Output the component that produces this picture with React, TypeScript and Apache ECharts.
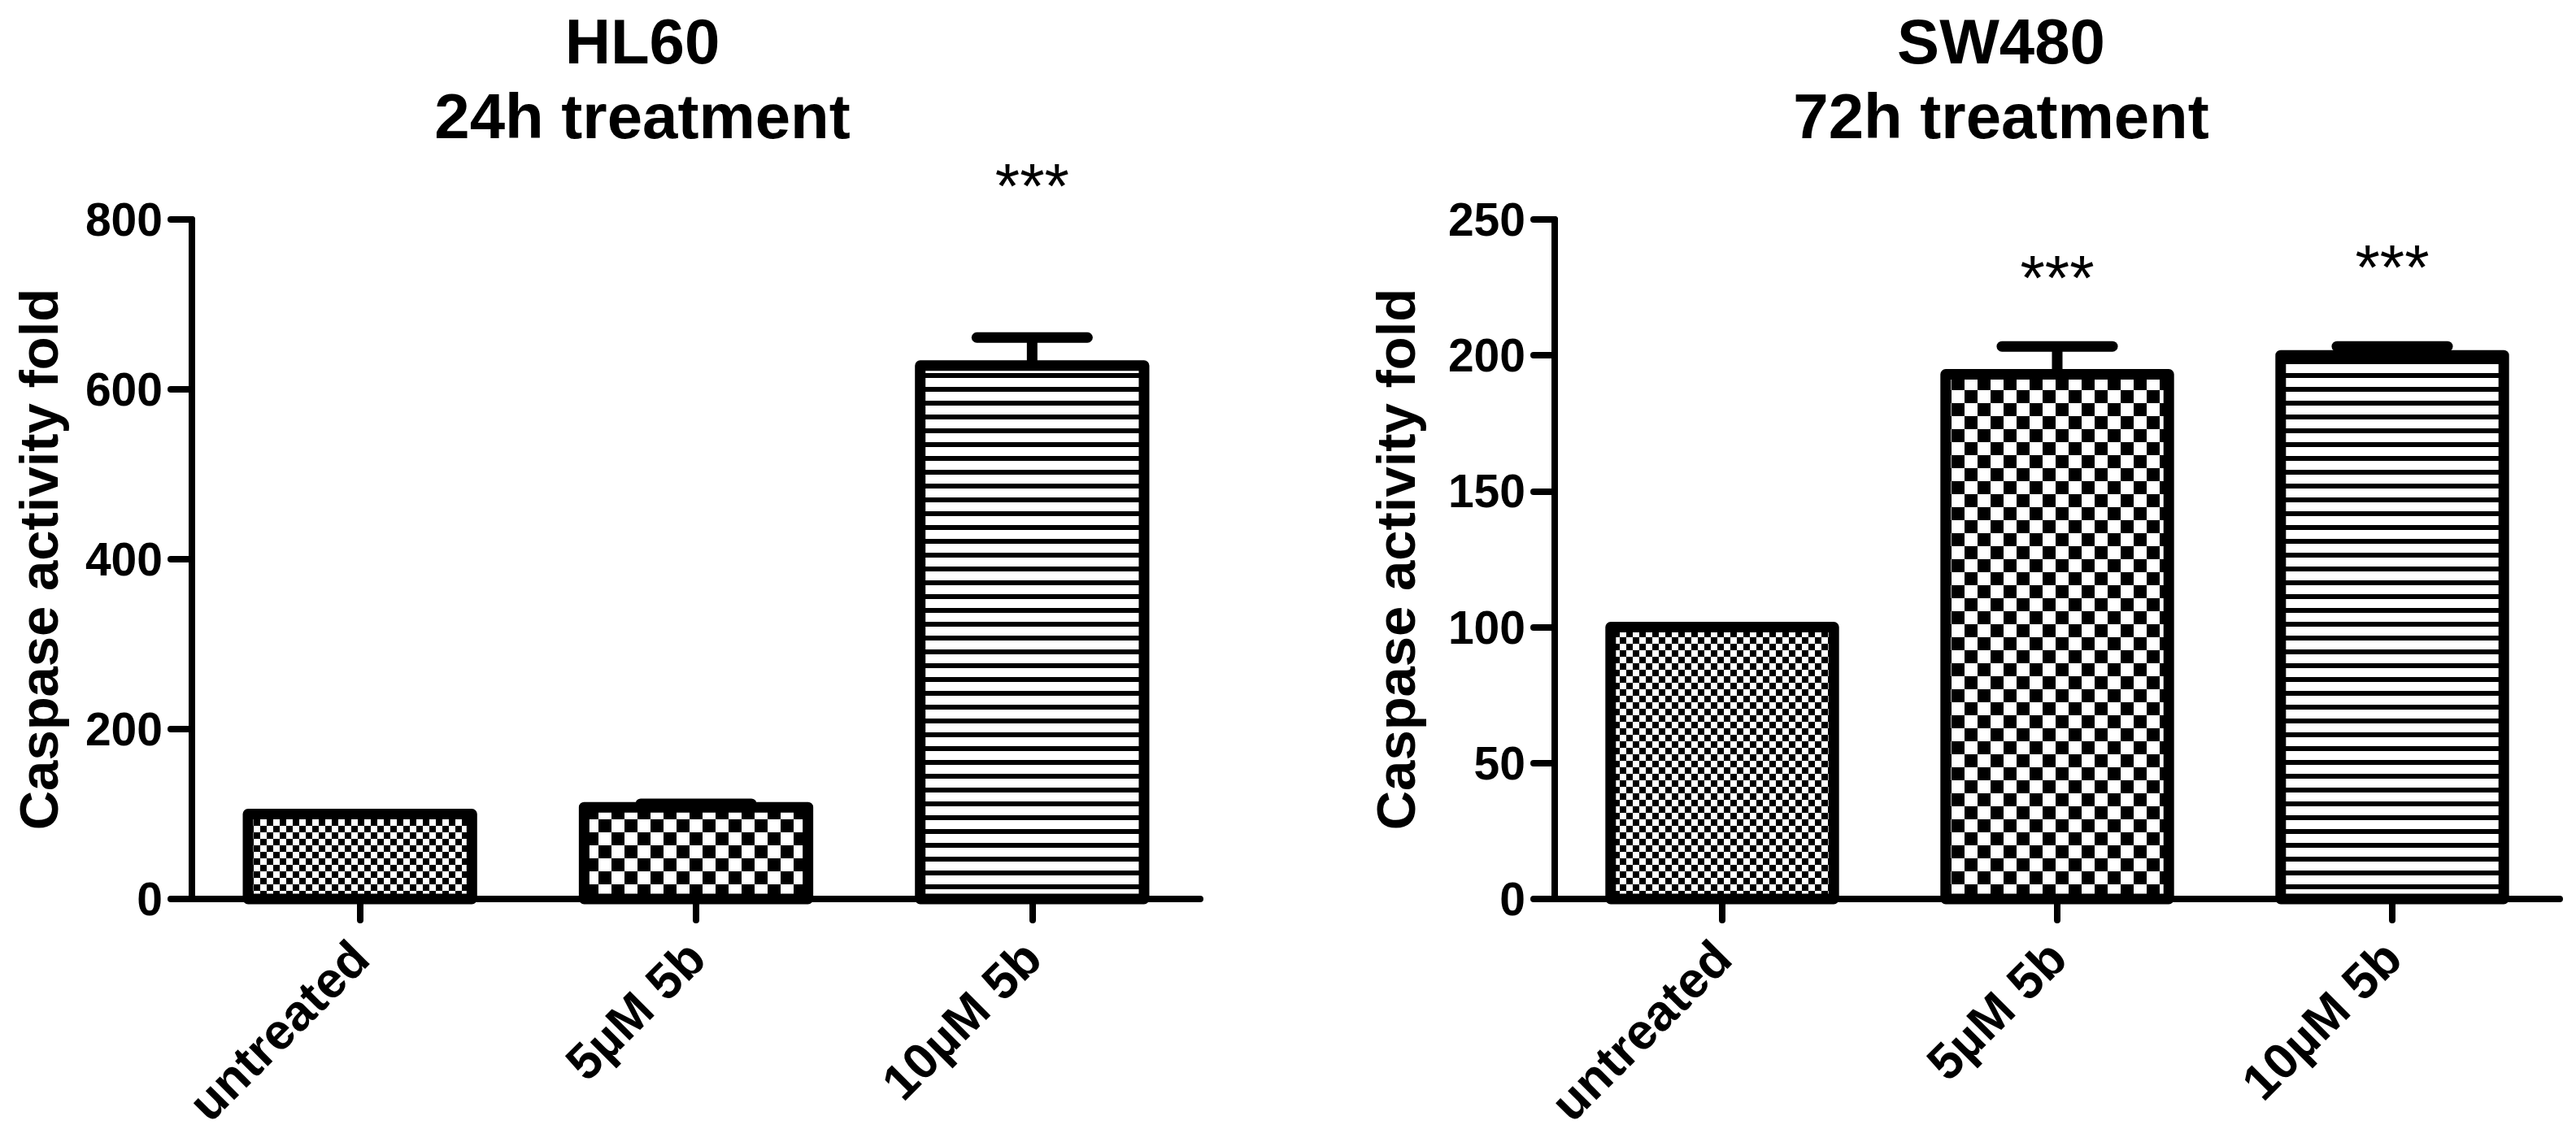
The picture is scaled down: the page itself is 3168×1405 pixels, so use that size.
import React, { useEffect, useRef } from 'react';
import * as echarts from 'echarts';

const FONT = '"Liberation Sans", Arial, Helvetica, sans-serif';

// ---- data ----
const categories = ['untreated', '5µM 5b', '10µM 5b'];

const hl60Title = 'HL60\n24h treatment';
const hl60Values = [100, 108, 628];
const hl60Errors = [0, 4, 33];
const hl60StarY: (number | null)[] = [null, null, 839];
const hl60AxisMax = 800;
const hl60AxisInterval = 200;

const sw480Title = 'SW480\n72h treatment';
const sw480Values = [100, 193, 200];
const sw480Errors = [0, 10.3, 3.3];
const sw480StarY: (number | null)[] = [null, 228.5, 232.5];
const sw480AxisMax = 250;
const sw480AxisInterval = 50;

const yAxisName = 'Caspase activity fold';
const starText = '***';

// share of a category band taken by a bar
const BAR_RATIO = 0.666;

// fill patterns per category (fine checker, coarse checker, horizontal stripes)
const decals = [
  { symbol: 'rect', symbolSize: 1, dashArrayX: [[8, 8], [0, 8, 8, 0]], dashArrayY: [8, 0], color: '#000', backgroundColor: '#fff', rotation: 0 },
  { symbol: 'rect', symbolSize: 1, dashArrayX: [[16, 16], [0, 16, 16, 0]], dashArrayY: [16, 0], color: '#000', backgroundColor: '#fff', rotation: 0 },
  { symbol: 'rect', symbolSize: 1, dashArrayX: [[10, 0]], dashArrayY: [6, 11], color: '#000', backgroundColor: '#fff', rotation: 0 },
];

const panels = [
  { title: hl60Title, titleX: 790, values: hl60Values, errors: hl60Errors, stars: hl60StarY, max: hl60AxisMax, interval: hl60AxisInterval, nameGap: 155, grid: { left: 236, top: 270, width: 1240, height: 836 } },
  { title: sw480Title, titleX: 2461, values: sw480Values, errors: sw480Errors, stars: sw480StarY, max: sw480AxisMax, interval: sw480AxisInterval, nameGap: 162, grid: { left: 1912, top: 270, width: 1236, height: 836 } },
];

function buildOption() {
  const axisLineStyle = { color: '#000', width: 8, cap: 'round' };
  const title: any[] = [];
  const grid: any[] = [];
  const xAxis: any[] = [];
  const yAxis: any[] = [];
  const series: any[] = [];

  panels.forEach((p, i) => {
    title.push({
      text: p.title,
      left: p.titleX,
      top: 5,
      textAlign: 'center',
      padding: 0,
      textStyle: { fontSize: 78, fontWeight: 'bold', lineHeight: 92, fontFamily: FONT, color: '#000' },
    });
    grid.push({ ...p.grid, containLabel: false });
    xAxis.push({
      type: 'category',
      gridIndex: i,
      data: categories,
      boundaryGap: true,
      axisLine: { show: true, lineStyle: axisLineStyle },
      axisTick: { show: true, alignWithLabel: true, length: 26, lineStyle: { color: '#000', width: 8, cap: 'round' } },
      axisLabel: {
        rotate: 45, interval: 0, margin: 62, padding: [40, 0, 0, 0],
        fontSize: 62, fontWeight: 'bold', fontFamily: FONT, color: '#000',
      },
      splitLine: { show: false },
    });
    yAxis.push({
      type: 'value',
      gridIndex: i,
      min: 0,
      max: p.max,
      interval: p.interval,
      splitLine: { show: false },
      axisLine: { show: true, lineStyle: axisLineStyle },
      axisTick: { show: true, length: 26, lineStyle: { color: '#000', width: 8, cap: 'round' } },
      axisLabel: { fontSize: 57, fontWeight: 'bold', fontFamily: FONT, color: '#000', margin: 36 },
      name: yAxisName,
      nameLocation: 'middle',
      nameGap: p.nameGap,
      nameTextStyle: { fontSize: 67, fontWeight: 'bold', fontFamily: FONT, color: '#000' },
    });

    // patterned bar bodies
    series.push({
      type: 'bar',
      xAxisIndex: i,
      yAxisIndex: i,
      barWidth: (BAR_RATIO * 100).toFixed(1) + '%',
      silent: true,
      z: 2,
      data: p.values.map((v, k) => ({ value: v, itemStyle: { color: '#fff', decal: decals[k] } })),
      itemStyle: { borderWidth: 0 },
    });
    // thick outlines, stroke centred on the bar edges
    series.push({
      type: 'custom',
      xAxisIndex: i,
      yAxisIndex: i,
      silent: true,
      z: 3,
      encode: { x: 0, y: 1 },
      data: p.values.map((v, k) => [k, v]),
      renderItem: (params: any, api: any) => {
        const k = api.value(0);
        const v = api.value(1);
        const top = api.coord([k, v]);
        const base = api.coord([k, 0]);
        const bw = api.size([1, 0])[0] * BAR_RATIO;
        return {
          type: 'rect',
          shape: { x: top[0] - bw / 2, y: top[1], width: bw, height: base[1] - top[1] },
          style: { fill: 'none', stroke: '#000', lineWidth: 13, lineJoin: 'round' },
        };
      },
    });
    // error bars (upper only)
    series.push({
      type: 'custom',
      xAxisIndex: i,
      yAxisIndex: i,
      silent: true,
      z: 4,
      encode: { x: 0, y: 1 },
      data: p.values.map((v, k) => [k, v, p.errors[k]]),
      renderItem: (params: any, api: any) => {
        const k = api.value(0);
        const v = api.value(1);
        const e = api.value(2);
        if (!e) return { type: 'group', children: [] };
        const base = api.coord([k, v]);
        const top = api.coord([k, v + e]);
        return {
          type: 'group',
          children: [
            { type: 'line', shape: { x1: base[0], y1: base[1], x2: top[0], y2: top[1] }, style: { stroke: '#000', lineWidth: 13 } },
            { type: 'line', shape: { x1: top[0] - 68, y1: top[1], x2: top[0] + 68, y2: top[1] }, style: { stroke: '#000', lineWidth: 13, lineCap: 'round' } },
          ],
        };
      },
    });
    // significance stars
    series.push({
      type: 'custom',
      xAxisIndex: i,
      yAxisIndex: i,
      silent: true,
      z: 5,
      clip: false,
      encode: { x: 0, y: 1 },
      data: p.stars.map((s, k) => [k, s]).filter((d) => d[1] != null),
      renderItem: (params: any, api: any) => {
        const pt = api.coord([api.value(0), api.value(1)]);
        return {
          type: 'text',
          x: pt[0],
          y: pt[1],
          style: { text: starText, fontSize: 78, fontFamily: FONT, fill: '#000', align: 'center', verticalAlign: 'middle' },
        };
      },
    });
  });

  return { animation: false, backgroundColor: '#fff', title, grid, xAxis, yAxis, series };
}

export default function App() {
  const ref = useRef<HTMLDivElement>(null);
  useEffect(() => {
    if (!ref.current) return;
    const chart = echarts.init(ref.current, undefined, { renderer: 'svg' });
    chart.setOption(buildOption() as any);
    return () => chart.dispose();
  }, []);
  return (
    <div
      ref={ref}
      style={{ position: 'fixed', left: 0, top: 0, width: 3168, height: 1405, background: '#fff' }}
    />
  );
}
